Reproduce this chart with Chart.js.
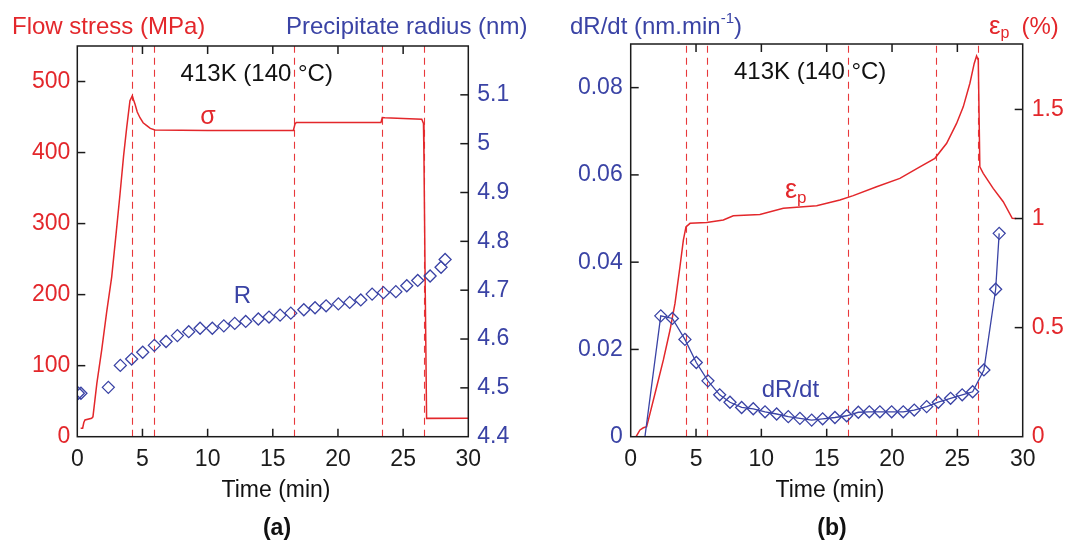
<!DOCTYPE html>
<html><head><meta charset="utf-8">
<script src="https://cdn.jsdelivr.net/npm/chart.js@4.4.1/dist/chart.umd.min.js"></script>
<style>
html,body{margin:0;padding:0;background:#fff;}
#wrap{position:relative;width:1073px;height:542px;overflow:hidden;background:#fff;}
.pane{position:absolute;top:0;height:542px;}
#pa{left:0;width:540px;}
#pb{left:540px;width:533px;}
</style></head><body>
<div id="wrap">
  <div class="pane" id="pa"><canvas id="ca"></canvas></div>
  <div class="pane" id="pb"><canvas id="cb"></canvas></div>
</div>
<script>
// ---------- data ----------
const eventTimes = [4.2, 5.87, 16.6, 23.4, 26.6];

const timeTicks = [0, 5, 10, 15, 20, 25, 30];
const stressTicks = [0, 100, 200, 300, 400, 500];
const radiusTicks = [4.4, 4.5, 4.6, 4.7, 4.8, 4.9, 5, 5.1];
const rateTicks = [0, 0.02, 0.04, 0.06, 0.08];
const strainTicks = [0, 0.5, 1, 1.5];

const timeRange = [0, 30];
const stressRange = [0, 550];
const radiusRange = [4.4, 5.2];
const rateRange = [0, 0.09];
const strainRange = [0, 1.8];

const stressTime = [0.26, 0.41, 0.5, 0.59, 1.1, 1.2, 1.5, 1.87, 2.25, 2.64, 3.0, 3.28, 3.55, 3.79, 4.04, 4.22, 4.32, 4.43, 4.6, 4.81, 5.05, 5.33, 5.6, 5.96, 10.0, 16.58, 16.7, 16.8, 20.0, 23.3, 23.4, 23.6, 25.0, 26.43, 26.56, 26.6, 26.7, 26.8, 30];
const stressMPa = [12, 12, 20, 23.5, 26, 28, 75, 122, 175, 225, 290, 342, 395, 435, 473, 480, 474, 468, 457, 449, 442, 438, 434, 431.7, 431, 431, 440, 442.4, 442.4, 442.4, 449.4, 449, 448, 447, 441, 390, 200, 25.8, 26];

const radiusTime = [0.08, 0.28, 2.38, 3.3, 4.17, 5.02, 5.91, 6.81, 7.68, 8.55, 9.42, 10.36, 11.24, 12.08, 12.92, 13.89, 14.71, 15.56, 16.38, 17.38, 18.24, 19.09, 20.03, 20.9, 21.75, 22.62, 23.49, 24.44, 25.28, 26.12, 27.07, 27.91, 28.22];
const radiusNm = [4.489, 4.489, 4.501, 4.546, 4.559, 4.573, 4.587, 4.595, 4.607, 4.615, 4.622, 4.622, 4.627, 4.632, 4.636, 4.641, 4.645, 4.649, 4.653, 4.66, 4.664, 4.668, 4.672, 4.675, 4.68, 4.692, 4.695, 4.697, 4.709, 4.72, 4.729, 4.747, 4.763];

const rateTime = [1.09, 2.30, 3.19, 4.15, 5.02, 5.91, 6.81, 7.6, 8.49, 9.38, 10.28, 11.17, 12.06, 12.95, 13.85, 14.69, 15.63, 16.53, 17.42, 18.26, 19.07, 19.97, 20.86, 21.7, 22.65, 23.54, 24.48, 25.37, 26.17, 27.03, 27.93, 28.2];
const rateNmPerMin = [0, 0.0277, 0.0271, 0.0223, 0.0170, 0.0128, 0.0096, 0.0079, 0.0067, 0.0064, 0.0057, 0.0052, 0.0046, 0.0042, 0.0038, 0.0041, 0.0044, 0.0048, 0.0056, 0.0057, 0.0057, 0.0057, 0.0057, 0.0061, 0.0069, 0.0079, 0.0088, 0.0096, 0.0103, 0.0153, 0.0338, 0.0466];

const strainTime = [0.41, 0.71, 0.97, 1.22, 1.48, 1.99, 2.5, 3.01, 3.39, 3.77, 4.03, 4.23, 4.54, 5.81, 7.09, 7.85, 9.89, 11.68, 14.23, 16.01, 17.03, 18.82, 20.6, 22.13, 23.28, 24.18, 24.94, 25.45, 25.96, 26.29, 26.47, 26.6, 26.72, 26.98, 27.74, 28.51, 29.2, 29.5];
const strainPct = [0, 0.031, 0.041, 0.046, 0.107, 0.229, 0.352, 0.489, 0.611, 0.779, 0.901, 0.962, 0.978, 0.982, 0.993, 1.013, 1.019, 1.047, 1.059, 1.085, 1.105, 1.146, 1.184, 1.237, 1.276, 1.345, 1.436, 1.512, 1.62, 1.711, 1.745, 1.726, 1.237, 1.207, 1.138, 1.077, 1.001, 1.0];

// ---------- style ----------
const RED = '#e3272b';
const BLUE = '#3a43a5';
const INK = '#1b1b1b';
const FONT = '"Liberation Sans", Arial, Helvetica, sans-serif';
Chart.defaults.font.family = FONT;

const pts = (xs, ys) => xs.map((x, i) => ({x, y: ys[i]}));
const fmt = v => String(+(+v).toFixed(3));

function decorPlugin() {
  return {
    id: 'decor',
    beforeDatasetsDraw(chart, args, o) {
      const {ctx, chartArea: a} = chart;
      const xs = chart.scales.x;
      ctx.save();
      ctx.strokeStyle = o.eventColor;
      ctx.lineWidth = 1.1;
      ctx.setLineDash([7, 5]);
      o.events.forEach(t => {
        const px = Math.round(xs.getPixelForValue(t)) + 0.5;
        ctx.beginPath(); ctx.moveTo(px, a.bottom); ctx.lineTo(px, a.top); ctx.stroke();
      });
      ctx.restore();
    },
    afterDatasetsDraw(chart, args, o) {
      const {ctx, chartArea: a} = chart;
      ctx.save();
      ctx.strokeStyle = INK;
      ctx.lineWidth = 1.5;
      ctx.setLineDash([]);
      ctx.strokeRect(a.left, a.top, a.right - a.left, a.bottom - a.top);
      const L = 8;
      Object.values(chart.scales).forEach(s => {
        s.ticks.forEach(t => {
          if (t.value <= s.min + 1e-9 || t.value >= s.max - 1e-9) return;
          const p = s.getPixelForValue(t.value);
          ctx.beginPath();
          if (s.axis === 'x') {
            ctx.moveTo(p, a.bottom); ctx.lineTo(p, a.bottom - L);
            ctx.moveTo(p, a.top); ctx.lineTo(p, a.top + L);
          } else if (s.position === 'left') {
            ctx.moveTo(a.left, p); ctx.lineTo(a.left + L, p);
          } else {
            ctx.moveTo(a.right, p); ctx.lineTo(a.right - L, p);
          }
          ctx.stroke();
        });
      });
      ctx.restore();
    },
    afterDraw(chart, args, o) {
      const ctx = chart.ctx;
      ctx.save();
      ctx.textBaseline = 'alphabetic';
      o.texts.forEach(item => {
        const parts = item.parts;
        let total = 0;
        parts.forEach(p => {
          ctx.font = (p.bold ? 'bold ' : '') + p.size + 'px ' + FONT;
          p.w = ctx.measureText(p.s).width;
          total += p.w + (p.gap || 0);
        });
        let x = item.align === 'center' ? item.x - total / 2 : item.x;
        parts.forEach(p => {
          ctx.font = (p.bold ? 'bold ' : '') + p.size + 'px ' + FONT;
          ctx.fillStyle = p.color || item.color;
          ctx.textAlign = 'left';
          ctx.fillText(p.s, x, item.y + (p.dy || 0));
          x += p.w + (p.gap || 0);
        });
      });
      ctx.restore();
    }
  };
}

function fixedTicks(arr) {
  return scale => { scale.ticks = arr.map(v => ({value: v})); };
}

const noGrid = {display: false, drawTicks: false, tickLength: 0};

function makeChart(canvasId, cfg) {
  return new Chart(document.getElementById(canvasId), {
    type: 'line',
    data: {datasets: cfg.datasets},
    options: {
      responsive: true,
      maintainAspectRatio: false,
      animation: false,
      devicePixelRatio: 1,
      events: [],
      layout: {padding: {top: cfg.top, left: 0, right: 0, bottom: 0}},
      plugins: {
        legend: {display: false},
        tooltip: {enabled: false},
        decor: {events: eventTimes, eventColor: '#e8383b', texts: cfg.texts}
      },
      scales: {
        x: {
          type: 'linear', position: 'bottom',
          min: timeRange[0], max: timeRange[1],
          afterBuildTicks: fixedTicks(timeTicks),
          grid: noGrid, border: {display: false},
          ticks: {color: INK, font: {size: 23}, padding: 9, maxRotation: 0, callback: fmt},
          afterFit: s => { s.height = 542 - cfg.bottom; }
        },
        yL: {
          type: 'linear', position: 'left',
          min: cfg.yL.range[0], max: cfg.yL.range[1],
          afterBuildTicks: fixedTicks(cfg.yL.ticks),
          grid: noGrid, border: {display: false},
          ticks: {color: cfg.yL.color, font: {size: 23}, padding: cfg.yL.pad, callback: fmt},
          afterFit: s => { s.width = cfg.left; }
        },
        yR: {
          type: 'linear', position: 'right',
          min: cfg.yR.range[0], max: cfg.yR.range[1],
          afterBuildTicks: fixedTicks(cfg.yR.ticks),
          grid: noGrid, border: {display: false},
          ticks: {color: cfg.yR.color, font: {size: 23}, padding: cfg.yR.pad, callback: fmt},
          afterFit: s => { s.width = cfg.width - cfg.right; }
        }
      }
    },
    plugins: [decorPlugin()]
  });
}

// ---------- chart (a) ----------
makeChart('ca', {
  width: 540, left: 77.3, right: 468.3, top: 46, bottom: 436.7,
  yL: {range: stressRange, ticks: stressTicks, color: RED, pad: 7},
  yR: {range: radiusRange, ticks: radiusTicks, color: BLUE, pad: 9},
  datasets: [
    {
      label: 'R', data: pts(radiusTime, radiusNm), yAxisID: 'yR', showLine: false,
      pointStyle: 'rectRot', pointRadius: 6, pointBorderWidth: 1.3,
      pointBorderColor: BLUE, pointBackgroundColor: 'rgba(0,0,0,0)', order: 0
    },
    {
      label: 'σ', data: pts(stressTime, stressMPa), yAxisID: 'yL',
      borderColor: RED, borderWidth: 1.5, pointRadius: 0, tension: 0, order: 1
    }
  ],
  texts: [
    {x: 12, y: 34, color: RED, parts: [{s: 'Flow stress (MPa)', size: 24}]},
    {x: 286, y: 34, color: BLUE, parts: [{s: 'Precipitate radius (nm)', size: 24}]},
    {x: 180.6, y: 80.5, color: '#111', parts: [{s: '413K (140', size: 24}, {s: ' °C)', size: 24}]},
    {x: 208, y: 124, align: 'center', color: RED, parts: [{s: 'σ', size: 25}]},
    {x: 242.5, y: 302.7, align: 'center', color: BLUE, parts: [{s: 'R', size: 24}]},
    {x: 276, y: 497, align: 'center', color: '#111', parts: [{s: 'Time (min)', size: 23}]},
    {x: 277, y: 535, align: 'center', color: '#111', parts: [{s: '(a)', size: 23, bold: true}]}
  ]
});

// ---------- chart (b) ----------
makeChart('cb', {
  width: 533, left: 90.7, right: 482.7, top: 44, bottom: 436.7,
  yL: {range: rateRange, ticks: rateTicks, color: BLUE, pad: 8},
  yR: {range: strainRange, ticks: strainTicks, color: RED, pad: 9},
  datasets: [
    {
      label: 'dR/dt', data: pts(rateTime, rateNmPerMin), yAxisID: 'yL',
      borderColor: BLUE, borderWidth: 1.3, tension: 0,
      pointStyle: 'rectRot', pointRadius: c => c.dataIndex === 0 ? 0 : 6, pointBorderWidth: 1.3,
      pointBorderColor: BLUE, pointBackgroundColor: 'rgba(0,0,0,0)', order: 0
    },
    {
      label: 'εp', data: pts(strainTime, strainPct), yAxisID: 'yR',
      borderColor: RED, borderWidth: 1.5, pointRadius: 0, tension: 0, order: 1
    }
  ],
  texts: [
    {x: 30, y: 34, color: BLUE, parts: [{s: 'dR/dt (nm.min', size: 24}, {s: '-1', size: 15, dy: -11}, {s: ')', size: 24}]},
    {x: 449, y: 34, color: RED, parts: [{s: 'ε', size: 26}, {s: 'p', size: 16, dy: 4, gap: 12}, {s: '(%)', size: 24}]},
    {x: 194, y: 79, color: '#111', parts: [{s: '413K (140 °C)', size: 24}]},
    {x: 245, y: 198, color: RED, parts: [{s: 'ε', size: 27}, {s: 'p', size: 17, dy: 5}]},
    {x: 221.7, y: 396.7, color: BLUE, parts: [{s: 'dR/dt', size: 24}]},
    {x: 290, y: 497, align: 'center', color: '#111', parts: [{s: 'Time (min)', size: 23}]},
    {x: 292, y: 535, align: 'center', color: '#111', parts: [{s: '(b)', size: 23, bold: true}]}
  ]
});
</script>
</body></html>
